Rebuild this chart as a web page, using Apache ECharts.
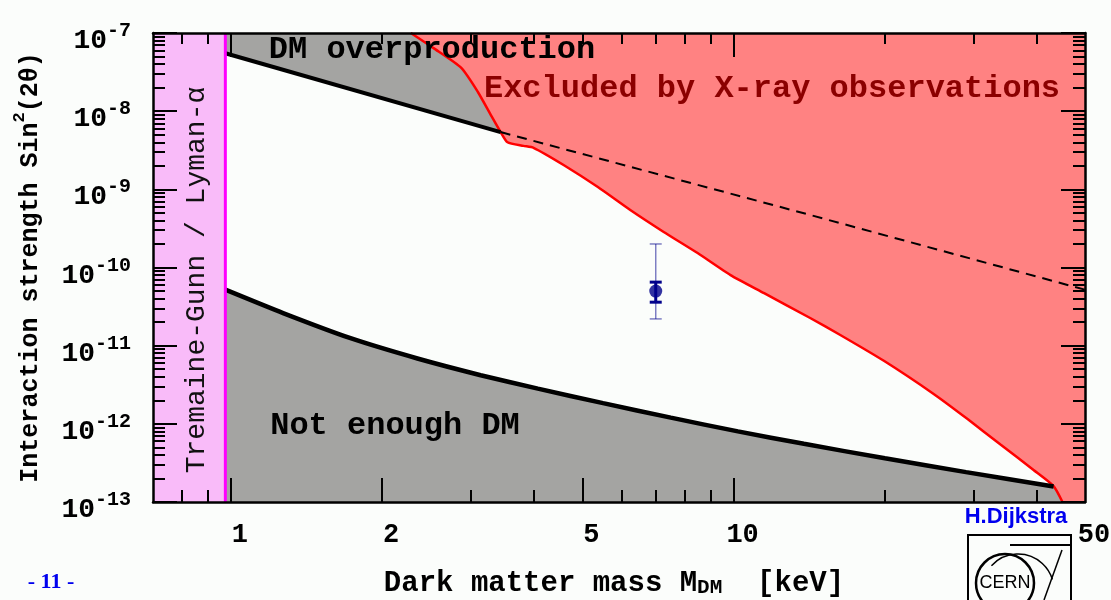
<!DOCTYPE html>
<html>
<head>
<meta charset="utf-8">
<title>Sterile neutrino dark matter</title>
<script src="https://cdn.jsdelivr.net/npm/echarts@6/dist/echarts.min.js"></script>
<style>
  html, body { margin: 0; padding: 0; background: #fbfdfb; }
  #chart { width: 1111px; height: 600px; }
</style>
</head>
<body>
<div id="chart"></div>
<script>
// dark matter mass in keV, mixing sin^2(2theta)
const xRange = [0.7, 50]
const yRange = [1e-13, 1e-7]
const lymanEdge = 0.975

const upperX = [0.975, 3.44]
const upperY = [5.5e-8, 5.4e-9]
const dashX = [3.44, 14.2, 50]
const dashY = [5.4e-9, 4.7e-10, 5.2e-11]

const lowerX = [0.975, 1.27, 1.73, 2.35, 3.14, 4.08, 5.5, 7.5, 10.2, 13.8, 20, 29, 43.3]
const lowerY = [5.2e-11, 2.61e-11, 1.245e-11, 6.85e-12, 4.19e-12, 2.82e-12, 1.84e-12, 1.2e-12, 8.0e-13, 5.55e-13, 3.62e-13, 2.41e-13, 1.58e-13]

const xrayX = [2.28, 2.53, 2.87, 3.10, 3.29, 3.44, 3.55, 3.82, 4.0, 4.59, 5.37, 6.24, 7.26, 8.48, 9.86, 11.5, 14.2, 16.3, 19.9, 25.0, 29.2, 34.0, 39.5, 43.3, 45.1]
const xrayY = [1e-7, 6.4e-8, 3.6e-8, 1.76e-8, 8.9e-9, 5.4e-9, 4.0e-9, 3.6e-9, 3.4e-9, 2.05e-9, 1.07e-9, 5.4e-10, 2.85e-10, 1.53e-10, 8.0e-11, 4.7e-11, 2.26e-11, 1.37e-11, 6.4e-12, 2.41e-12, 1.15e-12, 5.4e-13, 2.57e-13, 1.6e-13, 1e-13]

const signalX = [7.0]
const signalY = [5e-11]
const thickLo = [3.6e-11]
const thickHi = [6.5e-11]
const thinLo = [2.2e-11]
const thinHi = [2.0e-10]

// tick labels / tick marks
const xLabelTicks = [1, 2, 5, 10, 50]
const xBottomMajor = [1, 2, 5, 10]
const xBottomMinor = [0.8, 0.9, 3, 4, 6, 7, 8, 9, 20, 30, 40]
const xTopMajor = [1, 10]
const xTopMinor = [0.8, 0.9, 2, 3, 4, 5, 6, 7, 8, 9, 20, 30, 40]
const yDecades = [-13, -12, -11, -10, -9, -8, -7]

const lg = Math.log10
const MONO = 'Liberation Mono'
const GRAY = '#a4a4a2'

const yMinor = []
yDecades.slice(0, -1).forEach(d => {
  for (let k = 2; k <= 9; k++) yMinor.push(d + lg(k))
})

function pairs(xs, ys) {
  return xs.map((x, i) => [x, ys[i]])
}

// filled region drawn through the log axes
function polygon(name, pts, color, z) {
  return {
    type: 'custom',
    name: name,
    z: z,
    silent: true,
    clip: true,
    data: pts,
    renderItem: (params, api) => {
      if (params.dataIndex !== 0) return
      return {
        type: 'polygon',
        shape: { points: pts.map(p => api.coord(p)) },
        style: { fill: color }
      }
    }
  }
}

function line(name, pts, color, width, z, type, smooth) {
  return {
    type: 'line',
    name: name,
    data: pts,
    z: z,
    symbol: 'none',
    silent: true,
    smooth: smooth || false,
    lineStyle: { color: color, width: width, type: type || 'solid' }
  }
}

function overlayX(position, ticks, len, withLine, labels) {
  return {
    type: 'value',
    position: position,
    z: 10,
    min: lg(xRange[0]),
    max: lg(xRange[1]),
    axisLine: { show: withLine, onZero: false, lineStyle: { color: '#000', width: 2.5 } },
    axisTick: { show: true, inside: true, length: len, customValues: ticks.map(lg), lineStyle: { color: '#000', width: 2 } },
    axisLabel: labels ? {
      show: true,
      customValues: labels.map(lg),
      margin: 20,
      padding: [0, 0, 0, 18],
      fontFamily: MONO,
      fontWeight: 'bold',
      fontSize: 27,
      color: '#000',
      formatter: v => String(Math.round(Math.pow(10, v)))
    } : { show: false },
    splitLine: { show: false }
  }
}

function overlayY(position, ticks, len, withLine, labels) {
  return {
    type: 'value',
    position: position,
    z: 10,
    min: yDecades[0],
    max: yDecades[yDecades.length - 1],
    axisLine: { show: withLine, onZero: false, lineStyle: { color: '#000', width: 2.5 } },
    axisTick: { show: true, inside: true, length: len, customValues: ticks, lineStyle: { color: '#000', width: 2 } },
    axisLabel: labels ? {
      show: true,
      customValues: labels,
      margin: 22,
      padding: [10, 0, 0, 0],
      color: '#000',
      formatter: v => '{b|10}{s|' + Math.round(v) + '}',
      rich: {
        b: { fontFamily: MONO, fontWeight: 'bold', fontSize: 28, lineHeight: 34, verticalAlign: 'bottom', color: '#000' },
        s: { fontFamily: MONO, fontWeight: 'bold', fontSize: 20, lineHeight: 14, verticalAlign: 'top', color: '#000' }
      }
    } : { show: false },
    splitLine: { show: false }
  }
}

const chart = echarts.init(document.getElementById('chart'), null, { renderer: 'canvas' })

chart.setOption({
  backgroundColor: '#fbfdfb',
  animation: false,
  grid: { left: 153, right: 26, top: 33, bottom: 98, outerBoundsMode: 'none', containLabel: false },
  xAxis: [
    { type: 'log', logBase: 10, min: xRange[0], max: xRange[1], show: false },
    Object.assign(overlayX('bottom', xBottomMajor, 24, true, xLabelTicks), {
      name: '{m|Dark matter mass M}{sub|DM}{m|  [keV]}',
      nameLocation: 'middle',
      nameGap: 56,
      nameMoveOverlap: false,
      nameTextStyle: {
        color: '#000',
        padding: [0, 10, 0, 0],
        rich: {
          m: { fontFamily: MONO, fontWeight: 'bold', fontSize: 29, color: '#000', lineHeight: 40, verticalAlign: 'bottom' },
          sub: { fontFamily: MONO, fontWeight: 'bold', fontSize: 21, color: '#000', lineHeight: 16, verticalAlign: 'bottom' }
        }
      }
    }),
    overlayX('bottom', xBottomMinor, 12, false),
    overlayX('top', xTopMajor, 24, true),
    overlayX('top', xTopMinor, 11, false)
  ],
  yAxis: [
    { type: 'log', logBase: 10, min: yRange[0], max: yRange[1], show: false },
    Object.assign(overlayY('left', yDecades, 24, true, yDecades), {
      name: '{m|Interaction strength Sin}{sup|2}{m|(2θ)}',
      nameLocation: 'middle',
      nameGap: 110,
      nameMoveOverlap: false,
      nameTextStyle: {
        color: '#000',
        rich: {
          m: { fontFamily: MONO, fontWeight: 'bold', fontSize: 25, color: '#000', lineHeight: 32, verticalAlign: 'bottom' },
          sup: { fontFamily: MONO, fontWeight: 'bold', fontSize: 17, color: '#000', lineHeight: 14, verticalAlign: 'top' }
        }
      }
    }),
    overlayY('left', yMinor, 12, false),
    overlayY('right', yDecades, 24, true),
    overlayY('right', yMinor, 12, false)
  ],
  series: [
    polygon('Tremaine-Gunn / Lyman-α',
      [[xRange[0], yRange[0]], [lymanEdge, yRange[0]], [lymanEdge, yRange[1]], [xRange[0], yRange[1]]],
      '#f9bbf9', 1),
    polygon('DM overproduction',
      [[upperX[0], yRange[1]]].concat(pairs(upperX, upperY), [[upperX[upperX.length - 1], yRange[1]]]),
      GRAY, 1),
    polygon('Excluded by X-ray observations',
      pairs(xrayX, xrayY).concat([[xRange[1], yRange[0]], [xRange[1], yRange[1]]]),
      '#ff8282', 2),
    polygon('Not enough DM',
      pairs(lowerX, lowerY).concat([[xrayX[xrayX.length - 1], yRange[0]], [lowerX[0], yRange[0]]]),
      GRAY, 2),
    line('X-ray limit', pairs(xrayX, xrayY), '#ff0000', 2.5, 3, 'solid', 0.2),
    line('upper bound', pairs(upperX, upperY), '#000', 4, 4),
    line('upper bound (excluded)', pairs(dashX, dashY), '#000', 2, 4, [10, 7]),
    line('lower bound', pairs(lowerX, lowerY), '#000', 4.5, 4, 'solid', 0.2),
    line('Lyman-α edge', [[lymanEdge, yRange[0]], [lymanEdge, yRange[1]]], '#ff00ff', 3, 5),
    {
      type: 'custom',
      name: 'error',
      z: 6,
      silent: true,
      data: signalX.map((x, i) => [x, signalY[i], thickLo[i], thickHi[i], thinLo[i], thinHi[i]]),
      renderItem: (params, api) => {
        const x = api.value(0)
        const p = i => api.coord([x, api.value(i)])
        const a = p(4), b = p(5), c = p(2), d = p(3)
        const thin = { stroke: 'rgba(0,0,139,0.5)', lineWidth: 1.5 }
        const thick = { stroke: '#00008b', lineWidth: 3 }
        const seg = (x1, y1, x2, y2, st) => ({ type: 'line', shape: { x1, y1, x2, y2 }, style: st })
        return {
          type: 'group',
          children: [
            seg(a[0], a[1], b[0], b[1], thin),
            seg(a[0] - 6, a[1], a[0] + 6, a[1], thin),
            seg(b[0] - 6, b[1], b[0] + 6, b[1], thin),
            seg(c[0], c[1], d[0], d[1], thick),
            seg(c[0] - 6, c[1], c[0] + 6, c[1], thick),
            seg(d[0] - 6, d[1], d[0] + 6, d[1], thick)
          ]
        }
      }
    },
    {
      type: 'scatter',
      name: 'signal',
      z: 7,
      silent: true,
      symbolSize: 13,
      itemStyle: { color: '#00008b' },
      data: pairs(signalX, signalY)
    }
  ],
  graphic: [
    { type: 'text', z: 100, x: 432, y: 50, style: { text: 'DM overproduction', font: 'bold 32px "Liberation Mono"', fill: '#000', align: 'center', verticalAlign: 'middle' } },
    { type: 'text', z: 100, x: 772, y: 89, style: { text: 'Excluded by X-ray observations', font: 'bold 32px "Liberation Mono"', fill: '#8b0000', align: 'center', verticalAlign: 'middle' } },
    { type: 'text', z: 100, x: 395, y: 426, style: { text: 'Not enough DM', font: 'bold 32px "Liberation Mono"', fill: '#000', align: 'center', verticalAlign: 'middle' } },
    { type: 'text', z: 100, x: 197, y: 280, rotation: Math.PI / 2, style: { text: 'Tremaine-Gunn / Lyman-α', font: '28px "Liberation Mono"', fill: '#111', align: 'center', verticalAlign: 'middle' } },
    { type: 'text', z: 100, x: 1016, y: 517, style: { text: 'H.Dijkstra', font: 'bold 22px "Liberation Sans"', fill: '#0000ee', align: 'center', verticalAlign: 'middle' } },
    { type: 'text', z: 100, x: 51, y: 582, style: { text: '- 11 -', font: 'bold 22px "Liberation Serif"', fill: '#0000ee', align: 'center', verticalAlign: 'middle' } },
    { type: 'rect', z: 100, shape: { x: 968, y: 535, width: 103, height: 80 }, style: { fill: 'none', stroke: '#000', lineWidth: 2 } },
    { type: 'line', z: 100, shape: { x1: 1010, y1: 545, x2: 1071, y2: 545 }, style: { stroke: '#000', lineWidth: 2 } },
    { type: 'circle', z: 100, shape: { cx: 1005, cy: 583, r: 29 }, style: { fill: 'none', stroke: '#000', lineWidth: 2.5 } },
    { type: 'arc', z: 100, shape: { cx: 1018, cy: 590, r: 36, startAngle: -2.4, endAngle: -0.3 }, style: { fill: 'none', stroke: '#000', lineWidth: 1.5 } },
    { type: 'line', z: 100, shape: { x1: 1062, y1: 550, x2: 1044, y2: 600 }, style: { stroke: '#000', lineWidth: 1.5 } },
    { type: 'text', z: 100, x: 1005, y: 583, style: { text: 'CERN', font: '18px "Liberation Sans"', fill: '#000', align: 'center', verticalAlign: 'middle' } }
  ]
})
</script>
</body>
</html>
